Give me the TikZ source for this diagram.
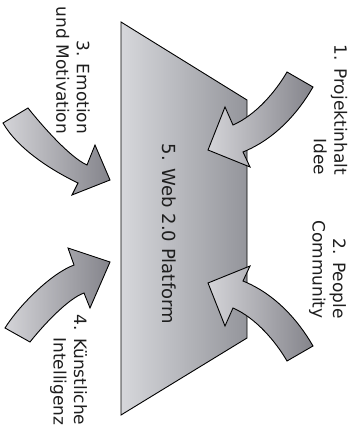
\documentclass[tikz,border=0pt]{standalone}
\usepackage{fontspec}
\setmainfont{DejaVu Sans}
\definecolor{plat-light}{RGB}{214,215,219}
\definecolor{plat-dark}{RGB}{148,149,155}
\definecolor{arr-light}{RGB}{212,212,216}
\definecolor{arr-dark}{RGB}{132,132,139}
\definecolor{ink}{RGB}{30,30,30}
\usetikzlibrary{
  positioning     % positions like above of node
}
\tikzset{
  every node/.style = {
    inner sep = 0pt,
    outer sep = 0pt,
    text = ink
  },
  platform/.style = {draw = black, line width = 0.9pt, left color = plat-light, right color = plat-dark},
  blockarrow/.style = {draw = black, line width = 0.9pt, left color = arr-light, right color = arr-dark},
  sidelabel/.style = {rotate = -90, align = right, font = \fontsize{17}{20.5}\selectfont},
  midlabel/.style = {rotate = -90, font = \fontsize{18}{21}\selectfont}
}

\begin{document}
\begin{tikzpicture}[x=1pt, y=-1pt]
\useasboundingbox (0,0) rectangle (361,430);

% the platform
\draw[platform] (121,22) -- (247,100) -- (247,338) -- (121,415) -- cycle;
\node[midlabel] (web) at (169,234) {5. Web 2.0 Platform};

% arrows from the right
\draw[blockarrow] (287,72) .. controls (276,91) and (256,115) .. (233,125)
   -- (225,107) -- (208,150) -- (250,167) -- (243,152)
   .. controls (275,139) and (298,113) .. (313,87) -- cycle;
\draw[blockarrow] (287,361) .. controls (276,342) and (256,318) .. (233,308)
   -- (225,326) -- (208,283) -- (250,266) -- (243,281)
   .. controls (275,294) and (298,320) .. (313,346) -- cycle;

% arrows from the left
\draw[blockarrow] (28,108) .. controls (39,122) and (69,157) .. (87,165)
   -- (95,145) -- (110,180) -- (72,195) -- (78,183)
   .. controls (51,170) and (18,149) .. (3,123) -- cycle;
\draw[blockarrow] (5,328) .. controls (18,307) and (50,274) .. (74,265)
   -- (68,248) -- (110,262) -- (90,308) -- (84,293)
   .. controls (67,299) and (41,328) .. (30,342) -- cycle;

% labels
\node[sidelabel] (idee) at (330.5,110) {1. Projektinhalt\\Idee};
\node[sidelabel] (people) at (327.5,269.5) {2. People\\Community};
\node[sidelabel] (emotion) at (73,70.5) {3. Emotion\\und Motivation};
\node[sidelabel] (ki) at (68.5,370) {4. Künstliche\\Intelligenz};
\end{tikzpicture}
\end{document}
